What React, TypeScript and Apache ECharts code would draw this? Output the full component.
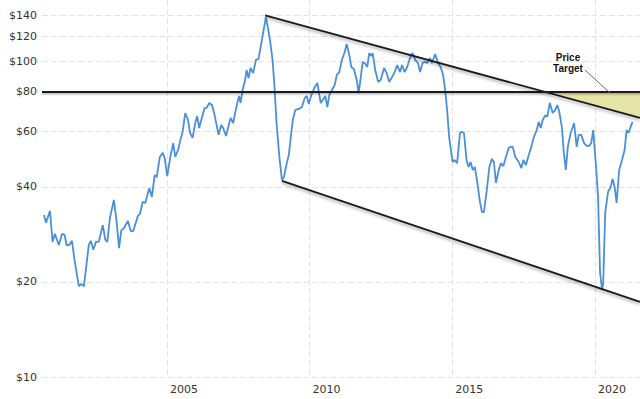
import React, { useEffect, useRef } from "react";
import * as echarts from "echarts";

// Monthly price (year, $)
const priceSeries: [number, number][] = [
  [2000.69, 32.6], [2000.76, 30.8], [2000.9, 33.6], [2000.99, 26.8], [2001.07, 28.4], [2001.21, 26.2],
  [2001.32, 28.4], [2001.41, 28.2], [2001.48, 26.2], [2001.57, 26.2], [2001.67, 27.0], [2001.76, 23.5],
  [2001.91, 19.4], [2001.99, 19.7], [2002.09, 19.4], [2002.26, 26.2], [2002.33, 27.0], [2002.42, 25.3],
  [2002.51, 26.8], [2002.61, 26.8], [2002.75, 30.3], [2002.84, 27.2], [2002.91, 26.8], [2003.0, 31.9],
  [2003.14, 36.4], [2003.24, 30.8], [2003.32, 25.6], [2003.4, 29.2], [2003.49, 29.6], [2003.63, 31.2],
  [2003.73, 29.0], [2003.82, 29.0], [2003.98, 32.4], [2004.05, 32.8], [2004.15, 35.9], [2004.24, 35.6],
  [2004.38, 39.7], [2004.47, 37.2], [2004.57, 43.6], [2004.64, 43.0], [2004.75, 49.8], [2004.85, 51.3],
  [2004.92, 49.4], [2005.01, 43.3], [2005.11, 49.4], [2005.22, 55.1], [2005.29, 49.8], [2005.39, 52.4],
  [2005.48, 56.8], [2005.55, 59.8], [2005.64, 68.6], [2005.74, 65.2], [2005.81, 59.3], [2005.9, 57.2],
  [2005.99, 63.8], [2006.06, 67.1], [2006.13, 61.5], [2006.23, 66.7], [2006.32, 71.2], [2006.39, 71.2],
  [2006.48, 73.8], [2006.58, 72.7], [2006.67, 67.6], [2006.81, 58.5], [2006.9, 62.9], [2006.97, 61.5],
  [2007.07, 58.0], [2007.14, 61.5], [2007.23, 66.2], [2007.32, 63.8], [2007.39, 68.6], [2007.49, 75.5],
  [2007.53, 77.7], [2007.58, 73.8], [2007.65, 81.2], [2007.74, 87.3], [2007.79, 93.9], [2007.86, 88.6],
  [2007.93, 95.3], [2008.02, 91.9], [2008.12, 101.1], [2008.21, 101.8], [2008.31, 114.4], [2008.4, 127.6],
  [2008.47, 138.3], [2008.54, 127.6], [2008.61, 116.9], [2008.7, 101.1], [2008.77, 83.0], [2008.84, 63.8],
  [2008.94, 49.8], [2009.03, 42.1], [2009.1, 43.0], [2009.2, 47.6], [2009.27, 50.5], [2009.34, 57.6],
  [2009.41, 65.2], [2009.5, 70.2], [2009.62, 70.7], [2009.73, 71.7], [2009.83, 76.6], [2009.9, 77.7],
  [2009.97, 73.3], [2010.06, 78.2], [2010.18, 83.0], [2010.27, 85.4], [2010.39, 73.8], [2010.48, 76.0],
  [2010.55, 77.7], [2010.62, 71.7], [2010.69, 78.2], [2010.78, 81.2], [2010.88, 84.2], [2010.95, 90.5],
  [2011.04, 92.5], [2011.13, 101.1], [2011.23, 107.1], [2011.3, 113.6], [2011.39, 104.8], [2011.46, 96.0],
  [2011.55, 94.6], [2011.65, 87.3], [2011.72, 79.4], [2011.79, 88.6], [2011.86, 99.6], [2011.93, 98.8],
  [2012.02, 96.0], [2012.09, 106.3], [2012.16, 104.0], [2012.21, 106.3], [2012.3, 93.9], [2012.4, 86.1],
  [2012.49, 87.3], [2012.61, 95.3], [2012.7, 91.9], [2012.79, 86.1], [2012.89, 89.2], [2012.98, 92.5],
  [2013.07, 97.4], [2013.17, 92.5], [2013.24, 97.4], [2013.33, 92.5], [2013.42, 96.0], [2013.52, 102.5],
  [2013.61, 106.3], [2013.7, 101.1], [2013.8, 98.8], [2013.87, 92.5], [2013.96, 98.8], [2014.05, 99.6],
  [2014.12, 98.8], [2014.22, 102.5], [2014.29, 98.8], [2014.4, 105.5], [2014.5, 98.8], [2014.59, 96.0],
  [2014.68, 90.5], [2014.75, 81.2], [2014.82, 70.2], [2014.89, 57.6], [2015.01, 48.0], [2015.08, 48.7],
  [2015.17, 47.6], [2015.27, 59.3], [2015.34, 59.8], [2015.41, 59.3], [2015.5, 48.7], [2015.57, 46.3],
  [2015.64, 48.0], [2015.72, 45.3], [2015.79, 46.3], [2015.88, 41.2], [2015.97, 35.9], [2016.04, 33.3],
  [2016.11, 33.3], [2016.21, 39.1], [2016.3, 46.3], [2016.39, 49.1], [2016.46, 48.0], [2016.53, 41.2],
  [2016.63, 45.3], [2016.7, 47.6], [2016.79, 46.6], [2016.88, 49.8], [2016.98, 53.2], [2017.05, 53.6],
  [2017.12, 53.6], [2017.21, 49.8], [2017.33, 48.0], [2017.42, 45.9], [2017.49, 48.7], [2017.58, 46.9],
  [2017.68, 50.5], [2017.77, 53.6], [2017.86, 57.6], [2017.96, 60.6], [2018.03, 64.3], [2018.1, 61.5],
  [2018.17, 65.2], [2018.26, 67.6], [2018.33, 66.7], [2018.42, 73.8], [2018.52, 68.6], [2018.61, 70.2],
  [2018.68, 72.7], [2018.75, 69.2], [2018.84, 62.0], [2018.91, 51.3], [2018.98, 45.3], [2019.05, 53.6],
  [2019.15, 59.3], [2019.27, 63.8], [2019.36, 53.6], [2019.43, 58.5], [2019.52, 58.5], [2019.62, 55.1],
  [2019.71, 54.0], [2019.8, 54.0], [2019.87, 55.1], [2019.94, 60.6], [2020.04, 46.3], [2020.11, 37.2],
  [2020.18, 21.4], [2020.25, 18.9], [2020.29, 19.8], [2020.36, 33.1], [2020.46, 38.6], [2020.55, 40.0],
  [2020.62, 42.4], [2020.69, 40.0], [2020.76, 35.6], [2020.85, 45.3], [2020.95, 48.7], [2021.04, 52.4],
  [2021.11, 60.6], [2021.18, 59.3], [2021.25, 62.0], [2021.32, 64.3],
];

const yTicks = [10, 20, 40, 60, 80, 100, 120, 140];
const xTicks = [2005, 2010, 2015, 2020];
const xMin = 2000.62;
const xMax = 2021.58;
const yMinPrice = 10;
const yMaxPrice = 156.5;

const resistancePrice = 80;
const resistanceLine: [number, number][] = [[xMin, resistancePrice], [xMax, resistancePrice]];
const upperTrend: [number, number][] = [[2008.44, 140], [xMax, 66.2]];
const lowerTrend: [number, number][] = [[2009.03, 41.8], [xMax, 17.3]];
const targetZone: [number, number][] = [[2018.42, 80], [xMax, 80], [xMax, 66.2]];

const lg = (p: number) => Math.log10(p);
const toLog = (arr: [number, number][]) => arr.map(([x, p]) => [x, lg(p)]);

export default function App() {
  const ref = useRef<HTMLDivElement>(null);
  useEffect(() => {
    if (!ref.current) return;
    const chart = echarts.init(ref.current, undefined, { renderer: "svg" });
    const gridStyle = { color: "#e3e3e3", width: 1, type: [6, 3] as any };
    const blackLine = (width: number) => ({
      color: "#1a1a1a",
      width,
      shadowColor: "rgba(0,0,0,0.35)",
      shadowBlur: 3,
      shadowOffsetY: 2,
    });
    chart.setOption({
      animation: false,
      grid: { left: 42, right: 0, top: 0, bottom: 22, containLabel: false },
      xAxis: {
        type: "value",
        min: xMin,
        max: xMax,
        axisLine: { show: false },
        axisTick: { show: false, customValues: xTicks },
        splitLine: { show: true, lineStyle: gridStyle },
        axisLabel: {
          customValues: xTicks,
          formatter: (v: number) => String(Math.round(v)),
          align: "left",
          padding: [0, 0, 0, 3],
          margin: 7,
          fontFamily: "DejaVu Sans",
          fontSize: 11,
          color: "#333",
        },
      },
      yAxis: {
        type: "value",
        min: lg(yMinPrice),
        max: lg(yMaxPrice),
        axisLine: { show: false },
        axisTick: { show: false, customValues: yTicks.map(lg) },
        splitLine: { show: true, lineStyle: gridStyle },
        axisLabel: {
          customValues: yTicks.map(lg),
          formatter: (v: number) => "$" + Math.round(Math.pow(10, v)),
          margin: 5,
          fontFamily: "DejaVu Sans",
          fontSize: 11,
          color: "#333",
        },
      },
      series: [
        {
          type: "custom",
          silent: true,
          z: 1,
          data: [0],
          renderItem: (_p: any, api: any) => ({
            type: "polygon",
            shape: { points: targetZone.map(([x, p]) => api.coord([x, lg(p)])) },
            style: { fill: "#e4e5a6" },
          }),
        },
        {
          type: "line",
          z: 3,
          data: toLog(priceSeries),
          symbol: "none",
          lineStyle: { color: "#4a90d9", width: 1.8 },
        },
        {
          // soft shadow under the $80 line
          type: "custom",
          silent: true,
          z: 4,
          data: [0],
          renderItem: (_p: any, api: any) => {
            const a = api.coord([xMin, lg(resistancePrice)]);
            const b = api.coord([xMax, lg(resistancePrice)]);
            return {
              type: "rect",
              shape: { x: a[0], y: a[1] + 1, width: b[0] - a[0], height: 3 },
              style: {
                fill: new echarts.graphic.LinearGradient(0, 0, 0, 1, [
                  { offset: 0, color: "rgba(0,0,0,0.28)" },
                  { offset: 1, color: "rgba(0,0,0,0)" },
                ]),
              },
            };
          },
        },
        {
          type: "line",
          z: 5,
          data: toLog(resistanceLine),
          symbol: "none",
          lineStyle: { color: "#1a1a1a", width: 2.2 },
        },
        {
          type: "line",
          z: 5,
          data: toLog(upperTrend),
          symbol: "none",
          lineStyle: blackLine(1.8),
        },
        {
          type: "line",
          z: 5,
          data: toLog(lowerTrend),
          symbol: "none",
          lineStyle: blackLine(1.8),
        },
      ],
      graphic: [
        {
          type: "line",
          shape: { x1: 585, y1: 70, x2: 610, y2: 93 },
          style: { stroke: "#666", lineWidth: 1 },
          z: 10,
        },
        {
          type: "text",
          x: 568,
          y: 57,
          style: {
            text: "Price",
            font: "bold 10px 'Liberation Sans', Arial, sans-serif",
            fill: "#111",
            align: "center",
            verticalAlign: "middle",
          },
          z: 10,
        },
        {
          type: "text",
          x: 568,
          y: 68,
          style: {
            text: "Target",
            font: "bold 10px 'Liberation Sans', Arial, sans-serif",
            fill: "#111",
            align: "center",
            verticalAlign: "middle",
          },
          z: 10,
        },
      ],
    });
    return () => chart.dispose();
  }, []);
  return <div ref={ref} style={{ width: 640, height: 399, position: "absolute", left: 0, top: 0 }} />;
}
